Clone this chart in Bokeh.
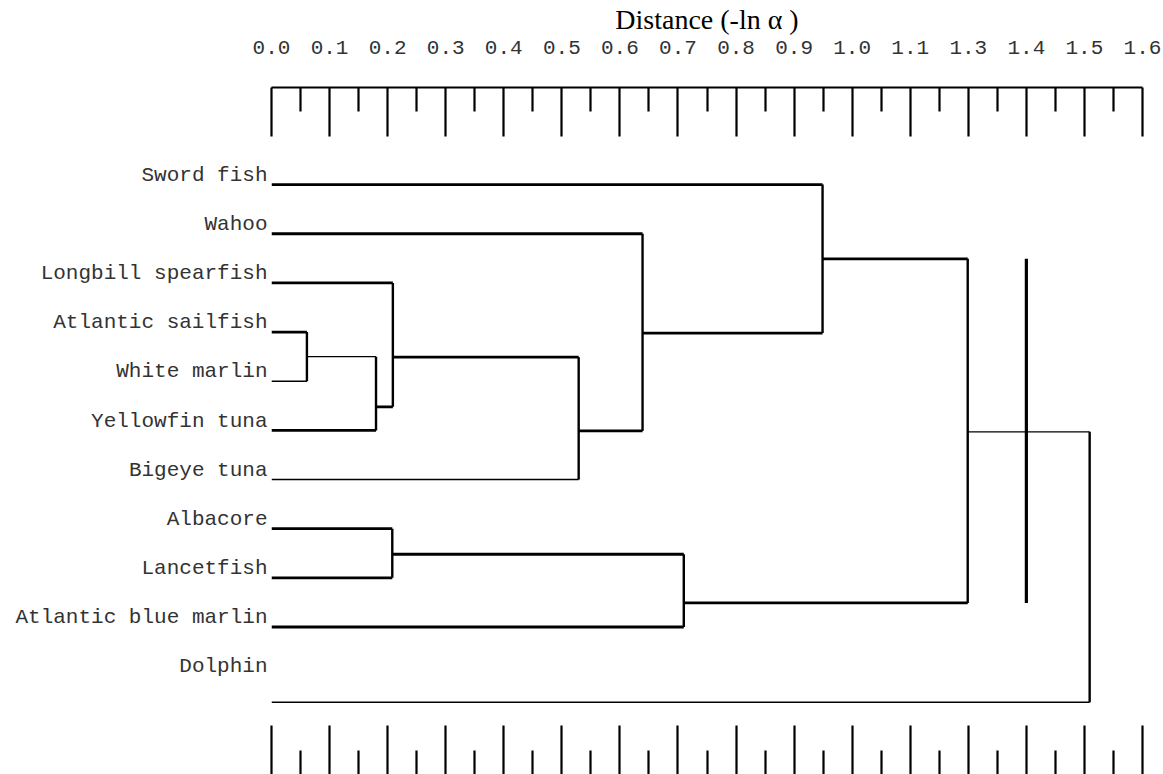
from bokeh.plotting import figure
from bokeh.models import Range1d, LinearAxis, FixedTicker, ColumnDataSource
from bokeh.embed import file_html
from bokeh.resources import INLINE

# ---- data ----
species = ["Sword fish", "Wahoo", "Longbill spearfish", "Atlantic sailfish",
           "White marlin", "Yellowfin tuna", "Bigeye tuna", "Albacore",
           "Lancetfish", "Atlantic blue marlin", "Dolphin"]
label_rows = [0, 1, 2, 3, 4, 5, 6, 7, 8, 9, 10]
leaf_rows = [0, 1, 2, 3, 4, 5, 6, 7, 8, 9, 10.53]

# merges: (child a, child b, distance, row of new node)
merge_a = [3, 11, 2, 13, 1, 0, 7, 17, 16, 19]
merge_b = [4, 5, 12, 6, 14, 15, 8, 9, 18, 10]
merge_dist = [0.061, 0.180, 0.209, 0.529, 0.639, 0.949, 0.208, 0.710, 1.199, 1.409]
merge_row = [3.50, 4.52, 3.51, 5.01, 3.02, 1.51, 7.52, 8.51, 5.03, 6.5]

cut_dist = 1.30
cut_rows = [1.51, 8.51]

tick_pos = [0.0, 0.1, 0.2, 0.3, 0.4, 0.5, 0.6, 0.7, 0.8, 0.9, 1.0, 1.1, 1.2, 1.3, 1.4, 1.5]
tick_labels = ["0.0", "0.1", "0.2", "0.3", "0.4", "0.5", "0.6", "0.7", "0.8",
               "0.9", "1.0", "1.1", "1.3", "1.4", "1.5", "1.6"]
minor_pos = [0.05, 0.15, 0.25, 0.35, 0.45, 0.55, 0.65, 0.75, 0.85, 0.95,
             1.05, 1.15, 1.25, 1.35, 1.45]

# ---- build segments ----
n = len(species)
node_x = [0.0] * n + list(merge_dist)
node_y = list(leaf_rows) + list(merge_row)
thin_children = {4, 6, 19, 11, 10}

x0, y0, x1, y1, lw = [], [], [], [], []
for k in range(len(merge_a)):
    a, b, d = merge_a[k], merge_b[k], merge_dist[k]
    x0.append(d); y0.append(node_y[a]); x1.append(d); y1.append(node_y[b])
    lw.append(2.4)
    for c in (a, b):
        x0.append(node_x[c]); y0.append(node_y[c]); x1.append(d); y1.append(node_y[c])
        lw.append(1.4 if c in thin_children else 2.8)

seg = ColumnDataSource(dict(x0=x0, y0=y0, x1=x1, y1=y1, lw=lw))

Y_TOP, Y_BOT = -1.975, 12.0
LABEL_SHIFT = 0.19  # labels sit slightly above their branch line

p = figure(width=1163, height=774, output_backend="svg", toolbar_location=None,
           x_range=Range1d(0, 1.5), y_range=Range1d(Y_BOT, Y_TOP),
           x_axis_location="above", y_axis_location=None,
           min_border_left=271, min_border_right=21, min_border_bottom=0,
           min_border_top=0)
p.extra_y_ranges = {"labels": Range1d(Y_BOT + LABEL_SHIFT, Y_TOP + LABEL_SHIFT)}
p.outline_line_color = None
p.xgrid.visible = False
p.ygrid.visible = False

p.segment(x0="x0", y0="y0", x1="x1", y1="y1", line_width="lw",
          line_color="black", source=seg)
p.segment(x0=[cut_dist], y0=[cut_rows[0]], x1=[cut_dist], y1=[cut_rows[1]],
          line_width=3.2, line_color="black")

# species names as a left axis
left = LinearAxis(y_range_name="labels",
                  ticker=FixedTicker(ticks=label_rows, minor_ticks=[]))
left.major_label_overrides = {r: s for r, s in zip(label_rows, species)}
left.major_label_text_font = "Liberation Mono"
left.major_label_text_font_size = "21px"
left.major_label_text_color = "#333333"
left.major_label_standoff = 4
left.axis_line_color = None
left.major_tick_line_color = None
left.minor_tick_line_color = None
left.major_tick_in = 0
left.major_tick_out = 0
p.add_layout(left, "left")

ticker = FixedTicker(ticks=tick_pos, minor_ticks=minor_pos)
top = p.xaxis[0]
top.ticker = ticker
top.major_label_overrides = {t: l for t, l in zip(tick_pos, tick_labels)}
top.major_label_text_font = "Liberation Mono"
top.major_label_text_font_size = "21px"
top.major_label_text_color = "#333333"
top.major_label_standoff = 34
top.major_tick_in = 49
top.major_tick_out = 0
top.minor_tick_in = 24
top.minor_tick_out = 0
top.major_tick_line_width = 2.2
top.minor_tick_line_width = 2.2
top.axis_line_width = 2.2
top.axis_label = "Distance (-ln \u03b1 )"
top.axis_label_text_font = "Liberation Serif"
top.axis_label_text_font_size = "28px"
top.axis_label_text_font_style = "normal"
top.axis_label_text_color = "black"
top.axis_label_standoff = 3

bottom = LinearAxis(ticker=ticker)
bottom.major_label_overrides = {t: "" for t in tick_pos}
bottom.major_label_text_font_size = "1px"
bottom.major_label_standoff = 0
bottom.axis_line_color = None
bottom.major_tick_in = 49
bottom.major_tick_out = 0
bottom.minor_tick_in = 24
bottom.minor_tick_out = 0
bottom.major_tick_line_width = 2.2
bottom.minor_tick_line_width = 2.2
p.add_layout(bottom, "below")

open("out.html", "w").write(file_html(p, INLINE))
